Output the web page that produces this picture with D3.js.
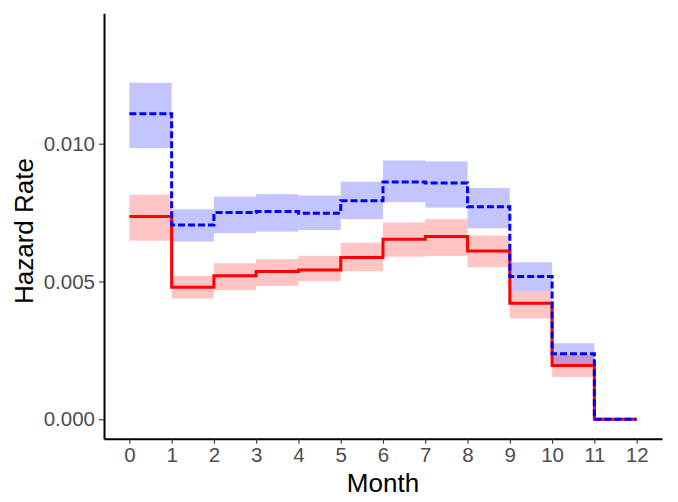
<!DOCTYPE html>
<html>
<head>
<meta charset="utf-8">
<script src="https://cdn.jsdelivr.net/npm/d3@7"></script>
<style>
  body { margin: 0; background: #fff; }
  svg { display: block; font-family: "Liberation Sans", Arial, sans-serif; }
</style>
</head>
<body>
<svg width="678" height="502"></svg>
<script>
'use strict';
// .......... data ..........
const months = [0, 1, 2, 3, 4, 5, 6, 7, 8, 9, 10, 11];
const redHaz = [0.00736, 0.00479, 0.00521, 0.00536, 0.00542, 0.00587, 0.00653, 0.00663, 0.00611, 0.00421, 0.00195, 0];
const redLo  = [0.00648, 0.00438, 0.00469, 0.00484, 0.00501, 0.00537, 0.00590, 0.00593, 0.00552, 0.00366, 0.00154, 0];
const redHi  = [0.00815, 0.00520, 0.00566, 0.00581, 0.00593, 0.00641, 0.00714, 0.00726, 0.00667, 0.00463, 0.00233, 0];
const blueHaz = [0.01109, 0.00705, 0.00750, 0.00754, 0.00748, 0.00793, 0.00861, 0.00857, 0.00771, 0.00518, 0.00238, 0];
const blueLo  = [0.00984, 0.00645, 0.00675, 0.00681, 0.00687, 0.00726, 0.00788, 0.00768, 0.00693, 0.00463, 0.00200, 0];
const blueHi  = [0.01221, 0.00762, 0.00808, 0.00817, 0.00812, 0.00862, 0.00939, 0.00936, 0.00839, 0.00570, 0.00276, 0];
const xTicks = [0, 1, 2, 3, 4, 5, 6, 7, 8, 9, 10, 11, 12];
const yTicks = [0, 0.005, 0.010];

const svg = d3.select('svg');

// .......... scales ..........
const x = d3.scaleLinear().domain([-0.6, 12.6]).range([104, 662]);
const y = d3.scaleLinear().domain([-0.000704, 0.01473]).range([438.7, 13.3]);

const series = [
  {haz: redHaz, lo: redLo, hi: redHi, color: '#FF0000', dash: null},
  {haz: blueHaz, lo: blueLo, hi: blueHi, color: '#0000FF', dash: '7,3'}
];

// .......... ribbons ..........
series.forEach(s => {
  svg.append('g')
    .selectAll('rect')
    .data(months)
    .join('rect')
      .attr('x', m => x(m))
      .attr('width', m => x(m + 1) - x(m))
      .attr('y', (m, i) => y(s.hi[i]))
      .attr('height', (m, i) => y(s.lo[i]) - y(s.hi[i]))
      .attr('fill', s.color)
      .attr('fill-opacity', 0.23);
});

// .......... step lines ..........
const line = d3.line()
  .x(d => x(d[0]))
  .y(d => y(d[1]))
  .curve(d3.curveStepAfter);

series.forEach(s => {
  const pts = months.map((m, i) => [m, s.haz[i]]);
  pts.push([12, s.haz[s.haz.length - 1]]);
  svg.append('path')
    .attr('d', line(pts))
    .attr('fill', 'none')
    .attr('stroke', s.color)
    .attr('stroke-width', 3)
    .attr('stroke-dasharray', s.dash);
});

// .......... axes ..........
const xAxis = svg.append('g')
  .attr('transform', 'translate(0,438.7)')
  .call(d3.axisBottom(x).tickValues(xTicks).tickFormat(d3.format('d')).tickSize(5).tickPadding(4).tickSizeOuter(0));
const yAxis = svg.append('g')
  .attr('transform', 'translate(104,0)')
  .call(d3.axisLeft(y).tickValues(yTicks).tickFormat(d3.format('.3f')).tickSize(5).tickPadding(4).tickSizeOuter(0));

[xAxis, yAxis].forEach(a => {
  a.select('.domain').attr('stroke', '#000').attr('stroke-width', 2);
  a.selectAll('.tick line').attr('stroke', '#333').attr('stroke-width', 1.1);
  a.selectAll('.tick text').attr('fill', '#4D4D4D').style('font-size', '20.5px');
});

// .......... titles ..........
svg.append('text')
  .attr('x', 383).attr('y', 492)
  .attr('text-anchor', 'middle')
  .style('font-size', '26px')
  .text('Month');
svg.append('text')
  .attr('transform', 'translate(33,231) rotate(-90)')
  .attr('text-anchor', 'middle')
  .style('font-size', '26px')
  .text('Hazard Rate');
</script>
</body>
</html>
